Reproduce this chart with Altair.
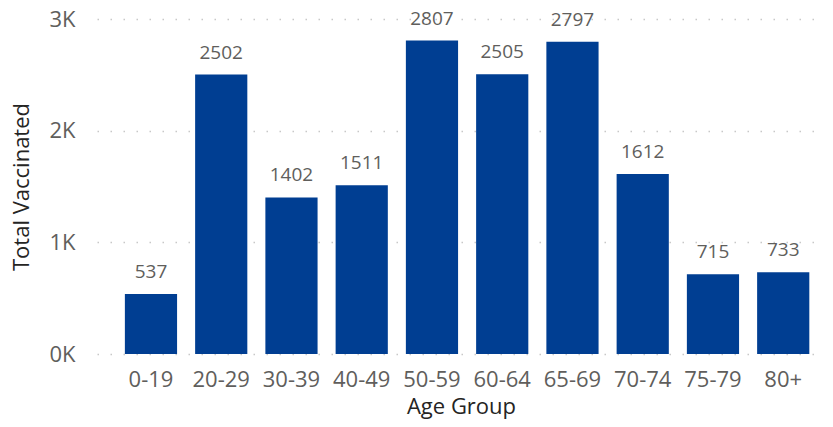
import altair as alt
import pandas as pd

groups = ["0-19", "20-29", "30-39", "40-49", "50-59", "60-64", "65-69", "70-74", "75-79", "80+"]
totals = [537, 2502, 1402, 1511, 2807, 2505, 2797, 1612, 715, 733]

df = pd.DataFrame({"group": groups, "total": totals})

FONT = "Open Sans"
x = alt.X("group:N", sort=groups, title="Age Group",
          scale=alt.Scale(paddingInner=0.257, paddingOuter=0.31, align=0.64),
          axis=alt.Axis(labelAngle=0, ticks=False, domain=False, grid=False,
                        labelFontSize=22, labelColor="#605E5C", labelFont=FONT,
                        labelPadding=15, titleFontSize=22, titleColor="#252423",
                        titleFont=FONT, titleFontWeight="normal", titlePadding=6))
y = alt.Y("total:Q", title="Total Vaccinated",
          scale=alt.Scale(domain=[0, 3000]),
          axis=alt.Axis(values=[0, 1000, 2000, 3000], labelExpr="(datum.value/1000) + 'K'",
                        ticks=False, domain=False, grid=True,
                        gridColor="#C8C8C8", gridDash=[1.5, 11.5], gridWidth=1.5,
                        labelFontSize=22, labelColor="#605E5C", labelFont=FONT,
                        labelPadding=22, titleFontSize=22, titleColor="#252423",
                        titleFont=FONT, titleFontWeight="normal", titlePadding=15))

bars = alt.Chart(df).mark_bar(color="#003E92").encode(x=x, y=y)
labels = alt.Chart(df).mark_text(font=FONT, fontSize=19, color="#605E5C",
                                 baseline="alphabetic", dy=-16).encode(
    x=alt.X("group:N", sort=groups), y="total:Q", text="total:Q")

chart = (bars + labels).properties(
    width=728, height=335,
    autosize=alt.AutoSizeParams(type="none"),
    padding={"left": 89, "top": 11, "right": 0, "bottom": 65},
).configure_view(stroke=None)
chart.save("out.html", embed_options={"renderer": "svg", "actions": False})
